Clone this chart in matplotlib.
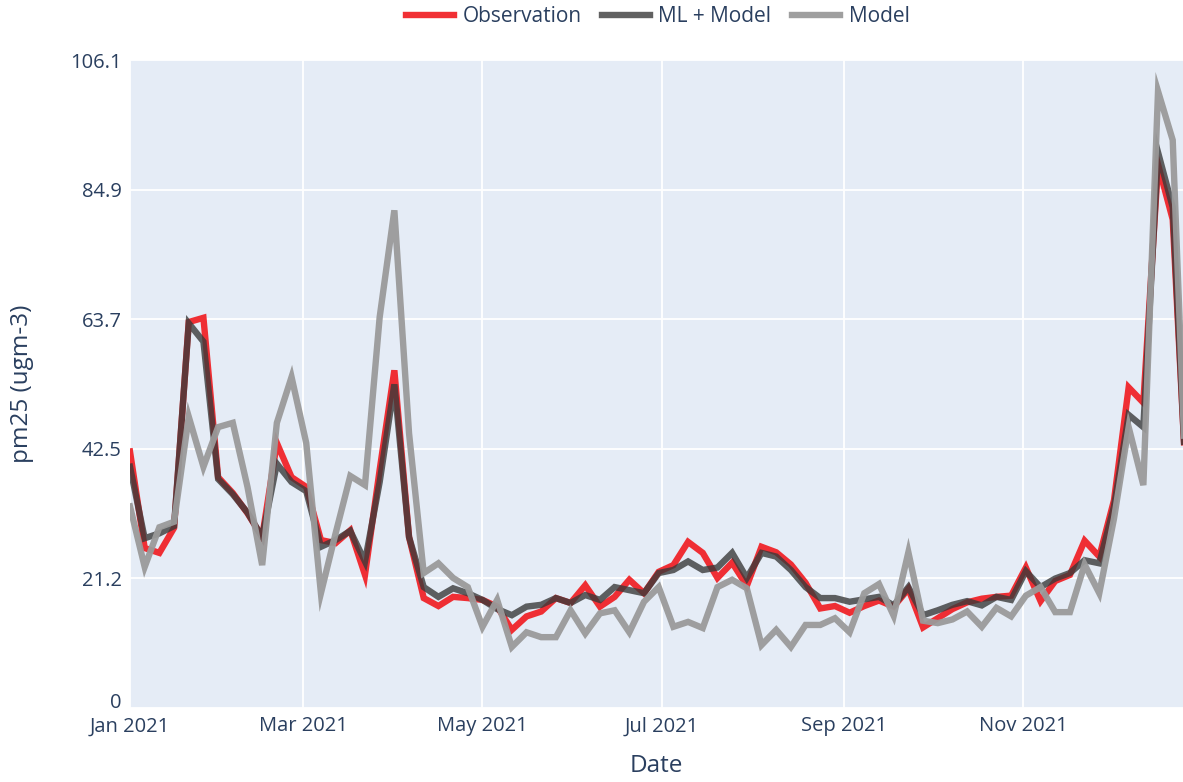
import numpy as np
import pandas as pd
import matplotlib
matplotlib.use("Agg")
import matplotlib.pyplot as plt
import matplotlib.dates as mdates

# 5-day mean pm25 at the station, 2021
dates = pd.date_range("2021-01-01", periods=73, freq="5D")

observation = [42, 26.2, 25.4, 29.5, 63.2, 63.9, 37.8, 35.2, 31.9, 28,
               43.4, 37.8, 36.2, 27.5, 27, 29.1, 21.8, 39, 55.3, 28,
               18, 16.7, 18.2, 18, 17.7, 16.6, 12.8, 15, 15.8, 18,
               17.2, 20.1, 16.6, 18.2, 21, 18.8, 22.3, 23.4, 27.2, 25.4,
               21.3, 23.8, 20, 26.4, 25.5, 23.5, 20.5, 16.3, 16.7, 15.6,
               16.7, 17.6, 16.6, 19.5, 13.2, 14.7, 16.2, 17.3, 17.9, 18.2,
               18.4, 23, 17.5, 20.8, 21.8, 27.4, 24.8, 34, 52.5, 50,
               89, 80, 32.5]

ml_model = [39.5, 27.8, 28.6, 29.8, 63, 60, 37.5, 35, 32, 28,
            40, 37, 35.5, 26.4, 27.5, 29, 24, 37, 53, 28,
            19.8, 18.2, 19.6, 18.8, 17.7, 16.2, 15.2, 16.6, 16.9, 18,
            17.2, 18.5, 17.7, 19.8, 19.3, 18.8, 22.1, 22.6, 24, 22.6,
            23, 25.4, 21.3, 25.4, 24.8, 22.6, 19.8, 18, 18, 17.4,
            17.8, 18.2, 16.8, 19.8, 15.2, 16, 16.9, 17.5, 16.8, 18.2,
            17.7, 22.4, 19.8, 21.2, 22.1, 24.2, 23.7, 33, 48, 46,
            91, 82, 32]

model = [33, 23.1, 29.6, 30.5, 47.7, 39.5, 46, 46.7, 36.2, 23.4,
         46.7, 54.2, 43.4, 18.8, 28.6, 38, 36.5, 64, 81.5, 45,
         22.1, 23.7, 21.3, 19.8, 13.3, 17.7, 10, 12.4, 11.6, 11.6,
         16, 12.2, 15.5, 16, 12.4, 17.4, 19.8, 13.3, 14.1, 13.1,
         19.8, 21, 19.6, 10.3, 12.8, 10, 13.6, 13.6, 14.7, 12.4,
         18.8, 20.3, 15.1, 25.5, 14.3, 13.9, 14.5, 15.8, 13.3, 16.4,
         15, 18.4, 19.8, 15.7, 15.7, 23.5, 18.8, 31, 46, 36.5,
         101, 93, 30]

y_ticks = [0, 21.22, 42.45, 63.67, 84.9, 106.12]
y_tick_labels = ["0", "21.2", "42.5", "63.7", "84.9", "106.1"]
x_ticks = pd.to_datetime(["2021-01-01", "2021-03-01", "2021-05-01",
                          "2021-07-01", "2021-09-01", "2021-11-01"])

text_color = "#2a3f5f"
plt.rcParams["font.family"] = ["Open Sans", "DejaVu Sans"]

fig = plt.figure(figsize=(11.83, 7.82), dpi=100)
ax = fig.add_axes([130 / 1183, 74 / 782, 1053 / 1183, 648 / 782])
ax.set_facecolor("#E5ECF6")

lw = 4.6
l1, = ax.plot(dates, observation, color="#f01e23", alpha=0.92, lw=lw,
              solid_joinstyle="miter", label="Observation")
l2, = ax.plot(dates, ml_model, color="#3a3a3a", alpha=0.8, lw=lw,
              solid_joinstyle="miter", label="ML + Model")
l3, = ax.plot(dates, model, color="#9a9a9a", alpha=0.95, lw=lw,
              solid_joinstyle="miter", label="Model")

ax.set_xlim(dates[0], dates[0] + pd.Timedelta(days=358.5))
ax.set_ylim(0, 106.12)

ax.set_yticks(y_ticks)
ax.set_yticklabels(y_tick_labels)
ax.set_xticks(x_ticks)
ax.xaxis.set_major_formatter(mdates.DateFormatter("%b %Y"))

ax.grid(True, color="white", lw=1.3)
ax.set_axisbelow(True)
for s in ax.spines.values():
    s.set_visible(False)
ax.tick_params(length=0, colors=text_color, labelsize=14.5, pad=6)

# lift the "0" label so it sits just above the first date label
ax.get_yticklabels()[0].set_va("baseline")

ax.set_xlabel("Date", color=text_color, fontsize=17.5, labelpad=13)
ax.set_ylabel("pm25 (ugm-3)", color=text_color, fontsize=17.5, labelpad=26)

fig.legend(handles=[l1, l2, l3], loc="center", bbox_to_anchor=(0.556, 0.979),
           ncol=3, frameon=False, fontsize=15, handlelength=2.3,
           handletextpad=0.4, columnspacing=1.0, labelcolor=text_color)

fig.savefig("out.png", dpi=100)
